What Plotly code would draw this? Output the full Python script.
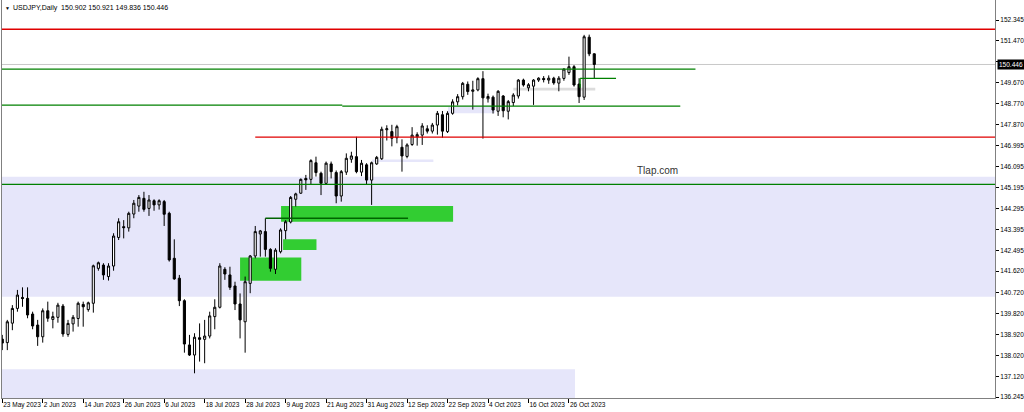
import pandas as pd
import plotly.graph_objects as go

# ---------------- data ----------------
start_date = "2023-05-23"
opens = [138.72, 138.57, 139.40, 140.03, 140.50, 140.46, 139.79, 139.32, 138.82, 139.93,
         139.56, 139.65, 140.13, 138.92, 139.37, 139.60, 140.20, 139.98, 140.25, 141.74,
         141.88, 141.39, 141.84, 143.06, 143.52, 143.47, 144.06, 144.40, 144.73, 144.30,
         144.63, 144.45, 144.59, 144.09, 142.17, 141.32, 140.36, 138.47, 138.04, 138.78,
         138.71, 138.85, 139.68, 140.08, 141.70, 141.46, 140.99, 140.22, 139.46, 141.10,
         142.27, 143.21, 143.31, 142.55, 141.70, 142.45, 143.35, 143.72, 144.69, 144.95,
         145.58, 145.54, 146.25, 145.80, 145.37, 146.20, 145.83, 144.83, 145.85, 146.40,
         146.51, 145.85, 146.16, 145.51, 146.20, 146.42, 147.66, 147.58, 147.32, 146.91,
         146.52, 147.03, 147.36, 147.43, 147.70, 147.60, 147.86, 148.30, 147.58, 148.36,
         148.85, 149.07, 149.60, 149.30, 149.36, 149.84, 148.98, 149.05, 148.45, 149.10,
         148.45, 148.82, 149.10, 149.78, 149.45, 149.52, 149.78, 149.85, 149.78, 149.86,
         149.65, 149.85, 150.10, 150.35, 149.61, 149.05, 151.61, 150.902]
highs = [138.90, 139.54, 140.17, 140.82, 140.93, 140.93, 139.89, 139.54, 140.03, 140.32,
         139.89, 140.27, 140.22, 139.54, 139.75, 140.32, 140.32, 140.32, 141.90, 142.03,
         141.96, 141.96, 143.24, 143.88, 143.80, 144.16, 144.66, 144.87, 145.01, 144.87,
         144.69, 144.69, 144.66, 144.16, 142.98, 141.46, 140.42, 138.90, 138.97, 139.39,
         139.54, 139.89, 140.42, 141.96, 141.79, 141.81, 141.17, 140.67, 141.39, 142.31,
         143.55, 143.38, 143.88, 142.60, 142.60, 143.45, 143.80, 144.83, 144.97, 145.58,
         145.73, 146.40, 146.51, 145.87, 146.30, 146.30, 145.92, 145.94, 146.65, 146.72,
         147.36, 146.37, 146.23, 146.30, 146.54, 147.79, 147.85, 147.87, 147.87, 147.25,
         147.08, 147.77, 147.55, 147.94, 147.85, 147.95, 148.46, 148.46, 148.45, 148.96,
         149.18, 149.70, 149.72, 149.75, 149.90, 150.16, 149.20, 149.12, 149.35, 149.14,
         148.93, 149.22, 149.82, 149.84, 149.65, 149.82, 149.90, 149.95, 149.98, 149.92,
         149.95, 150.28, 150.78, 150.42, 149.86, 151.71, 151.72, 150.921]
lows = [138.25, 138.25, 139.10, 139.89, 140.10, 139.61, 139.14, 138.43, 138.57, 139.46,
        139.18, 139.42, 138.82, 138.82, 139.04, 139.25, 139.25, 139.89, 139.85, 141.64,
        141.25, 141.22, 141.64, 142.95, 143.02, 143.31, 143.88, 144.16, 144.16, 143.98,
        144.20, 144.25, 143.55, 142.03, 141.25, 140.13, 138.14, 138.00, 137.26, 137.76,
        137.69, 138.75, 139.14, 140.03, 141.25, 140.82, 139.96, 138.75, 138.14, 140.68,
        142.17, 142.24, 142.24, 141.60, 141.50, 142.38, 142.98, 143.66, 144.38, 144.92,
        145.09, 145.30, 145.66, 144.87, 145.30, 145.58, 144.52, 144.59, 145.73, 146.25,
        145.80, 145.68, 145.30, 144.45, 146.16, 146.37, 147.20, 146.95, 147.08, 145.87,
        146.44, 146.97, 146.98, 147.01, 147.50, 147.50, 147.45, 147.32, 147.52, 148.30,
        148.70, 148.95, 149.15, 148.52, 149.30, 147.28, 148.82, 148.35, 148.25, 148.19,
        148.10, 148.67, 148.99, 149.50, 149.30, 148.72, 149.70, 149.68, 149.62, 149.58,
        149.30, 149.75, 150.00, 149.50, 148.80, 148.93, 150.80, 149.836]
closes = [138.55, 139.46, 140.03, 140.60, 140.45, 139.75, 139.28, 138.82, 139.93, 139.61,
          139.68, 140.17, 138.94, 139.39, 139.65, 140.25, 140.10, 140.27, 141.85, 141.98,
          141.46, 141.84, 143.12, 143.73, 143.48, 144.09, 144.52, 144.77, 144.26, 144.66,
          144.45, 144.63, 144.05, 142.10, 141.29, 140.36, 138.51, 138.04, 138.80, 138.71,
          138.85, 139.71, 140.08, 141.84, 141.50, 140.93, 140.22, 139.54, 141.17, 142.27,
          143.31, 143.34, 142.55, 141.74, 142.52, 143.38, 143.73, 144.77, 144.92, 145.54,
          145.52, 146.34, 145.83, 145.37, 146.23, 145.87, 144.83, 145.87, 146.44, 146.54,
          145.87, 146.23, 145.51, 146.25, 146.48, 147.68, 147.70, 147.30, 147.79, 146.54,
          147.01, 147.43, 147.45, 147.82, 147.60, 147.86, 148.36, 147.60, 148.36, 148.85,
          149.07, 149.64, 149.29, 149.36, 149.84, 149.02, 149.08, 148.50, 149.30, 148.47,
          148.86, 149.14, 149.78, 149.57, 149.58, 149.78, 149.86, 149.80, 149.86, 149.66,
          149.86, 150.25, 150.35, 149.57, 149.07, 151.63, 150.90, 150.446]

date_tick_bars = [0, 8, 16, 24, 32, 40, 48, 56, 64, 72, 80, 88, 96, 104, 112]
date_tick_labels = ["23 May 2023", "2 Jun 2023", "14 Jun 2023", "26 Jun 2023", "6 Jul 2023",
                    "18 Jul 2023", "28 Jul 2023", "9 Aug 2023", "21 Aug 2023", "31 Aug 2023",
                    "12 Sep 2023", "22 Sep 2023", "4 Oct 2023", "16 Oct 2023", "26 Oct 2023"]
price_ticks = [152.345, 151.470, 150.570, 149.670, 148.770, 147.870, 146.995, 146.095,
               145.195, 144.295, 143.395, 142.495, 141.620, 140.720, 139.820, 138.920,
               138.020, 137.120, 136.245]
hidden_price_tick = 150.570   # covered by the current-price label in the reference

# zones: (bar_from, bar_to, price_low, price_high); None = chart edge
lavender_zones = [(None, None, 140.53, 145.655), (None, 113.2, 135.0, 137.43),
                  (88.1, 97.4, 148.36, 148.64), (73.1, 85.2, 146.28, 146.39)]
gray_zones = [(101.0, 117.2, 149.33, 149.45)]
green_zones = [(55.1, 89.1, 143.73, 144.40), (55.5, 62.1, 142.52, 142.98),
               (47.0, 59.1, 141.21, 142.20)]
# horizontal levels: (bar_from, bar_to, price, color)
levels = [(None, None, 151.95, "#e00000"), (50.0, None, 147.34, "#e00000"),
          (None, 137.0, 150.25, "#008000"), (114.2, 121.3, 149.85, "#008000"),
          (None, 67.2, 148.71, "#008000"), (67.2, 134.0, 148.67, "#008000"),
          (None, None, 145.33, "#008000"), (52.0, 80.2, 143.88, "#006400")]
short_vertical = (114.2, 149.45, 149.85)

# ---------------- figure ----------------
dates = pd.bdate_range(start_date, periods=len(opens))
bars = list(range(len(dates)))
n_view = 196.2

fig = go.Figure(go.Candlestick(
    x=bars, open=opens, high=highs, low=lows, close=closes,
    increasing=dict(line=dict(color="black", width=1), fillcolor="white"),
    decreasing=dict(line=dict(color="black", width=1), fillcolor="black"),
    whiskerwidth=0, hoverinfo="skip", showlegend=False))

shapes = []

def xr(v0, v1):
    if v0 is None and v1 is None:
        return "paper", 0, 1
    return "x", (v0 if v0 is not None else -1), (v1 if v1 is not None else n_view + 1)

for zlist, col in ((lavender_zones, "#e6e6fa"), (gray_zones, "#dcdcdc"), (green_zones, "#32cd32")):
    for b0, b1, p0, p1 in zlist:
        ref, a, b = xr(b0, b1)
        shapes.append(dict(type="rect", xref=ref, yref="y", x0=a, x1=b, y0=p0, y1=p1,
                           fillcolor=col, line=dict(width=0), layer="below"))
# bid line
shapes.append(dict(type="line", xref="paper", yref="y", x0=0, x1=1, y0=closes[-1], y1=closes[-1],
                   line=dict(color="#c8c8c8", width=1), layer="below"))
for b0, b1, p, col in levels:
    ref, a, b = xr(b0, b1)
    shapes.append(dict(type="line", xref=ref, yref="y", x0=a, x1=b, y0=p, y1=p,
                       line=dict(color=col, width=1.3)))
shapes.append(dict(type="line", xref="x", yref="y", x0=short_vertical[0], x1=short_vertical[0],
                   y0=short_vertical[1], y1=short_vertical[2], line=dict(color="#008000", width=1.3)))

font_name = "Liberation Sans"
annotations = [
    dict(xref="paper", yref="paper", x=0, y=1, xanchor="left", yanchor="top", xshift=9, yshift=-2,
         text="USDJPY,Daily  %.3f %.3f %.3f %.3f" % (opens[-1], highs[-1], lows[-1], closes[-1]),
         showarrow=False, font=dict(family=font_name, size=7, color="black")),
    dict(xref="paper", yref="paper", x=0, y=1, xanchor="left", yanchor="top", xshift=1, yshift=-3,
         text="▼", showarrow=False, font=dict(family=font_name, size=5, color="black")),
    dict(xref="x", yref="y", x=129.4, y=145.9, text="Tlap.com", showarrow=False,
         font=dict(family=font_name, size=10, color="#333333")),
    dict(xref="paper", yref="y", x=1, y=closes[-1], xanchor="left", yanchor="middle", xshift=2,
         text="%.3f" % closes[-1], showarrow=False, bgcolor="black", borderpad=1,
         font=dict(family=font_name, size=6.5, color="white")),
]

price_text = ["" if v == hidden_price_tick else "%.3f" % v for v in price_ticks]

fig.update_layout(
    width=1024, height=412, margin=dict(l=2, r=29, t=0, b=14, autoexpand=False),
    paper_bgcolor="white", plot_bgcolor="white", shapes=shapes, annotations=annotations,
    boxgap=0.4,
    xaxis=dict(range=[-0.05, n_view], tickmode="array", tickvals=date_tick_bars, ticktext=date_tick_labels,
               ticks="outside", ticklen=4, tickcolor="black", ticklabelposition="outside right",
               tickangle=0, automargin=False,
               tickfont=dict(family=font_name, size=6.5, color="black"), showgrid=False, zeroline=False,
               showline=True, linecolor="#808080", mirror=True, rangeslider=dict(visible=False),
               fixedrange=True),
    yaxis=dict(side="right", range=[136.205, 153.199], tickmode="array", tickvals=price_ticks,
               ticktext=price_text, ticks="outside", ticklen=3, tickcolor="black",
               automargin=False,
               tickfont=dict(family=font_name, size=6.5, color="black"), showgrid=False, zeroline=False,
               showline=True, linecolor="#808080", mirror=True, fixedrange=True),
)

fig.write_html("out.html", config={"displayModeBar": False},
               post_script="document.body.style.margin='0';document.body.style.overflow='hidden';")
